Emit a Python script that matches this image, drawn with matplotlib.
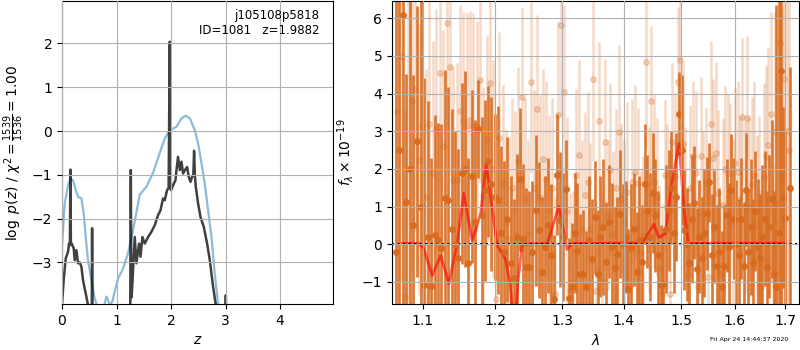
import numpy as np
import matplotlib
matplotlib.use('Agg')
from matplotlib import pyplot as plt

# ---- p(z) panel data ----
pz_z_fit = [0.0, 0.05, 0.11, 0.154, 0.2, 0.264, 0.294, 0.356, 0.398, 0.435,
            0.477, 0.539, 0.6, 0.63, 0.70, 0.78, 0.815, 0.84, 0.875, 0.92,
            0.95, 1.0, 1.028, 1.119, 1.211, 1.303, 1.426, 1.549, 1.67, 1.79,
            1.884, 1.976, 2.10, 2.19, 2.27, 2.345, 2.435, 2.495, 2.558, 2.618,
            2.679, 2.741, 2.783, 2.833, 2.862, 2.95, 3.2, 4.0, 5.0]
pz_fit = [-2.6, -1.65, -1.24, -1.08, -1.12, -1.39, -1.5, -1.54, -1.88, -2.42,
          -2.95, -3.4, -3.82, -3.95, -4.3, -3.95, -3.78, -3.85, -3.97, -3.9,
          -3.75, -3.5, -3.37, -3.14, -2.79, -2.26, -1.45, -1.27, -0.95, -0.51,
          -0.17, 0.02, 0.1, 0.29, 0.35, 0.29, 0.02, -0.28, -0.74, -1.2,
          -1.81, -2.42, -3.02, -3.63, -3.95, -4.6, -5.5, -8.0, -10.0]

pz_z = [0.0, 0.031, 0.068, 0.11, 0.128, 0.145, 0.154, 0.163, 0.178, 0.215,
        0.233, 0.264, 0.294, 0.325, 0.356, 0.385, 0.435, 0.477, 0.50, 0.545,
        0.552, 0.559, 0.58, 1.0, 1.24, 1.252, 1.262, 1.272, 1.284, 1.334,
        1.365, 1.413, 1.439, 1.475, 1.517, 1.578, 1.640, 1.701, 1.761, 1.806,
        1.853, 1.884, 1.927, 1.955, 1.976, 1.997, 2.037, 2.081, 2.099, 2.128,
        2.160, 2.191, 2.220, 2.257, 2.294, 2.325, 2.356, 2.385, 2.408, 2.422,
        2.436, 2.453, 2.495, 2.539, 2.6, 2.661, 2.71, 2.771, 2.82, 2.86,
        2.99, 3.004, 3.018, 3.1, 4.0, 5.0]
pz = [-3.95, -3.4, -2.91, -2.76, -2.57, -2.6, -0.88, -2.6, -2.57, -2.68,
      -2.95, -2.72, -3.02, -3.0, -3.1, -3.4, -3.71, -3.97, -4.5, -4.5,
      -2.22, -4.5, -5.0, -5.5, -4.5, -3.9, -0.89, -3.8, -3.63, -2.42,
      -3.02, -2.57, -2.87, -2.42, -2.57, -2.42, -2.3, -2.15, -1.92, -1.81,
      -1.54, -1.58, -1.35, -1.3, 2.04, -1.35, -1.24, -1.12, -0.89, -0.59,
      -0.89, -0.7, -0.97, -0.89, -0.82, -1.05, -1.16, -1.05, -1.0, -0.45,
      -1.0, -1.27, -1.65, -1.96, -2.19, -2.57, -2.95, -3.56, -3.97, -4.5,
      -4.5, -3.75, -4.5, -5.0, -8.0, -10.0]

# ---- spectrum panel data ----
# G141 pixel grid (46.4 A per pixel)
pix_step = 0.00464
wave_a = 1.0645 + pix_step * np.arange(141)
wave_b = 1.0668 + pix_step * np.arange(141)

nan = np.nan
flux_a = [-0.2, 2.5, 6.1, 1.12, 2.0, 0.5, 2.74, 1.0, -1.09, 0.2,
          -1.12, 0.24, 0.11, -0.11, 1.23, 1.17, 0.4, 0.0, -0.38, 1.88,
          2.0, -0.5, 1.8, 0.6, 3.05, 0.77, 1.43, 2.2, 1.6, 1.25,
          1.17, 0.3, -0.2, 0.66, -0.5, -0.9, 0.2, 1.72, 0.14, -0.6,
          -0.6, -0.21, 0.9, 0.37, -0.74, -0.08, 0.5, -0.3, -1.46, 1.85,
          0.65, 0.2, 1.46, -1.44, -1.15, 0.3, -0.18, -0.8, -0.8, -1.15,
          0.1, -0.4, 0.72, -0.8, 0.2, 0.46, -0.47, 0.6, -0.07, -0.62,
          -0.25, 0.8, 0.0, 0.19, -1.19, -0.11, 0.4, -0.74, 0.1, -0.47,
          1.6, 0.88, 0.2, 1.36, 0.77, -0.29, -1.08, -1.07, 0.4, 0.9,
          1.5, 0.3, 1.26, 3.47, 2.5, 0.37, 0.0, -0.5, 0.68, 1.1,
          -0.65, 0.2, -0.36, 0.3, 0.82, 1.64, -0.28, 0.46, -0.57, -0.2,
          -1.15, -0.57, 0.77, -0.07, 1.43, 0.68, 0.0, -0.3, 0.68, -0.57,
          1.45, -0.2, 0.46, -0.5, 0.88, -0.08, -0.36, 0.2, 0.68, -0.6,
          0.46, 1.19, -0.8, -1.15, 0.3, 4.61, 1.24, 0.7, nan, 1.5, nan]
err_a = [8.0, 9.0, 8.0, 3.4, 8.0, 4.0, 3.6, 8.0, 5.5, 3.6,
         3.4, 3.2, 3.1, 3.3, 3.4, 3.0, 3.2, 3.0, 2.9, 2.4,
         2.6, 2.8, 2.3, 2.7, 1.3, 2.6, 2.4, 2.0, 2.3, 2.2,
         2.5, 2.3, 2.4, 2.2, 2.3, 2.1, 2.2, 1.9, 2.0, 2.1,
         2.0, 1.9, 2.0, 1.8, 2.0, 1.9, 1.8, 1.9, 1.7, 1.6,
         1.8, 1.7, 1.32, 1.6, 1.7, 1.6, 1.8, 1.6, 1.7, 1.5,
         1.7, 1.6, 1.5, 1.7, 1.6, 1.8, 1.6, 1.5, 1.7, 1.6,
         1.5, 1.7, 1.6, 1.5, 1.6, 1.7, 1.5, 1.6, 1.7, 1.5,
         1.6, 1.5, 1.7, 1.6, 1.5, 1.7, 1.6, 1.5, 1.7, 1.6,
         1.5, 1.6, 1.7, 1.1, 2.0, 1.6, 1.5, 1.6, 1.7, 1.5,
         1.6, 1.5, 1.6, 1.7, 1.5, 1.05, 1.6, 1.5, 1.6, 1.7,
         1.5, 1.6, 1.5, 1.7, 1.5, 1.6, 1.7, 1.5, 1.6, 1.7,
         1.5, 1.6, 1.8, 1.7, 1.6, 1.8, 1.7, 1.9, 1.8, 2.0,
         1.9, 2.1, 2.2, 7.5, 8.0, 8.0, 2.4, 2.3, nan, 3.2, nan]

flux_b = [3.5, 5.0, -1.4, 2.0, 3.8, 4.13, 2.24, 3.13, 1.26, 3.2,
          1.9, 3.05, 4.55, 2.6, 5.87, 4.72, 1.7, 1.7, 3.55, 3.28,
          3.13, 3.3, 3.13, 3.13, 4.36, 1.27, 2.76, 4.27, 2.0, -1.46,
          2.83, 1.63, 0.55, 0.14, 1.48, 0.93, 2.2, 3.9, 1.19, 0.28,
          4.3, 1.5, 3.59, 1.26, 2.25, 1.73, 0.9, 1.48, -1.32, 3.42,
          5.83, 4.05, 0.88, -1.24, -1.0, 1.83, 2.38, 0.37, 1.3, 1.65,
          0.39, 4.4, -1.24, 3.27, -0.97, 2.71, 0.77, 1.98, 0.28, 1.5,
          2.99, 1.2, 0.6, 1.38, -1.1, 1.66, 1.93, 1.63, -0.23, 0.24,
          4.85, 0.91, 3.8, 1.66, 1.26, -0.63, -1.32, 1.83, 1.0, -1.32,
          2.72, 1.8, 4.3, 4.88, 2.66, 1.01, -0.82, 1.5, 2.34, 1.88,
          -1.15, 2.34, 0.8, 1.63, -0.87, 3.2, 2.28, 2.43, 1.37, -0.8,
          1.04, 2.0, 1.88, 1.45, 0.6, 2.15, 1.93, 1.2, 3.37, 1.01,
          3.34, 0.99, 1.6, 1.83, 0.5, 1.1, -1.15, 1.79, 2.34, 2.63,
          3.47, -0.93, 2.98, 1.06, 5.35, 1.79, 4.4, 3.0, 2.5, nan, nan]
err_b = [5.0, 6.0, 5.0, 5.5, 4.5, 3.8, 3.6, 3.5, 3.4, 3.3,
         3.5, 3.2, 3.0, 3.1, 2.8, 2.9, 3.0, 3.1, 2.8, 2.9,
         3.0, 2.9, 3.0, 2.8, 2.7, 2.9, 2.8, 2.6, 2.9, 2.7,
         2.8, 2.6, 2.5, 2.7, 2.4, 2.6, 2.5, 2.4, 2.7, 2.5,
         2.4, 2.6, 2.5, 2.7, 2.4, 2.6, 2.5, 2.4, 2.6, 2.5,
         2.4, 2.3, 2.5, 2.6, 2.4, 2.3, 2.5, 2.4, 2.2, 2.4,
         2.3, 2.2, 2.4, 2.1, 2.3, 2.2, 2.0, 2.3, 2.2, 2.1,
         2.3, 2.0, 2.2, 2.4, 2.1, 2.2, 2.3, 2.0, 2.2, 2.1,
         2.3, 2.2, 2.0, 2.3, 2.1, 2.2, 2.4, 2.0, 2.2, 2.3,
         2.1, 2.2, 2.0, 2.3, 2.2, 2.1, 2.3, 2.2, 2.0, 2.2,
         2.3, 2.1, 2.2, 2.0, 2.3, 2.2, 2.1, 2.4, 2.2, 2.0,
         2.3, 2.2, 2.1, 2.3, 2.2, 2.0, 2.4, 2.2, 2.1, 2.3,
         2.2, 2.4, 2.3, 2.5, 2.4, 2.3, 2.6, 2.5, 2.4, 2.6,
         2.7, 3.0, 3.2, 3.5, 4.0, 4.5, 5.0, 5.0, 4.0, nan, nan]

model_wave = [1.0732, 1.0947, 1.1013, 1.1124, 1.1237, 1.1349, 1.1463, 1.1554,
              1.1672, 1.1789, 1.1869, 1.2027, 1.2148, 1.2216, 1.2250, 1.2290,
              1.2330, 1.2394, 1.2773, 1.2950, 1.3080, 1.3160, 1.4317, 1.4517,
              1.4604, 1.4723, 1.4811, 1.4960, 1.5039, 1.5123, 1.7000]
model_flux = [0.02, 0.02, -0.12, -0.83, -0.3, -1.05, 0.02, 1.35,
              0.1, 0.8, 2.14, -0.03, -0.4, -1.05, -1.8, -2.2,
              -1.0, 0.0, 0.02, 1.0, -0.14, 0.02, 0.03, 0.53,
              0.18, 0.28, 1.43, 2.67, 1.17, 0.02, 0.03]

wave_ticks = [1.1, 1.2, 1.3, 1.4, 1.5, 1.6, 1.7]
wave_ticklabels = ['1.1', '1.2', '1.3', '1.4', '1.5', '1.6', '1.7']

orange = '#d86a1e'

fig = plt.figure(figsize=(8, 3.5), dpi=100)

# Left: p(z)
ax = fig.add_axes([0.0775, 0.1314, 0.3388, 0.8657])
ax.set_axisbelow(False)
ax.plot(pz_z_fit, pz_fit, color='tab:blue', alpha=0.5, lw=1.6)
ax.plot(pz_z, pz, color='k', alpha=0.75, lw=1.8)
ax.set_xlim(0, 4.97)
ax.set_ylim(-3.95, 2.97)
ax.set_xticks([0, 1, 2, 3, 4])
ax.set_yticks([-3, -2, -1, 0, 1, 2])
ax.grid()
ax.set_xlabel(r'$z$')
ax.set_ylabel(r'$\log\ p(z)$ / $\chi^2=\frac{1539}{1536}=1.00$')
ax.text(0.95, 0.975, 'j105108p5818\nID=1081   z=1.9882', transform=ax.transAxes,
        ha='right', va='top', fontsize=8.5)

# Right: spectrum
ax = fig.add_axes([0.49, 0.1314, 0.50875, 0.8657])
ax.set_axisbelow(False)
ax.errorbar(wave_b, flux_b, yerr=err_b, marker='o', ms=4, linestyle='none',
            elinewidth=1.8, color=orange, alpha=0.25)
ax.errorbar(wave_a, flux_a, yerr=err_a, marker='o', ms=4, linestyle='none',
            elinewidth=1.9, color=orange, alpha=0.9)
ax.plot(model_wave, model_flux, color='r', alpha=0.6, lw=2)
ax.axhline(0, color='k', linestyle=':', lw=1.5)
ax.set_xscale('log')
ax.set_xlim(1.06, 1.728)
ax.set_ylim(-1.59, 6.46)
ax.set_xticks(wave_ticks)
ax.set_xticklabels(wave_ticklabels)
ax.set_xticks([], minor=True)
ax.set_yticks([-1, 0, 1, 2, 3, 4, 5, 6])
ax.grid()
ax.set_xlabel(r'$\lambda$')
ax.set_ylabel(r'$f_\lambda\times10^{-19}$')

fig.text(0.985, 0.031, 'Fri Apr 24 14:44:37 2020', ha='right', va='center',
         fontsize=4.5)

fig.savefig('out.png', dpi=100)
